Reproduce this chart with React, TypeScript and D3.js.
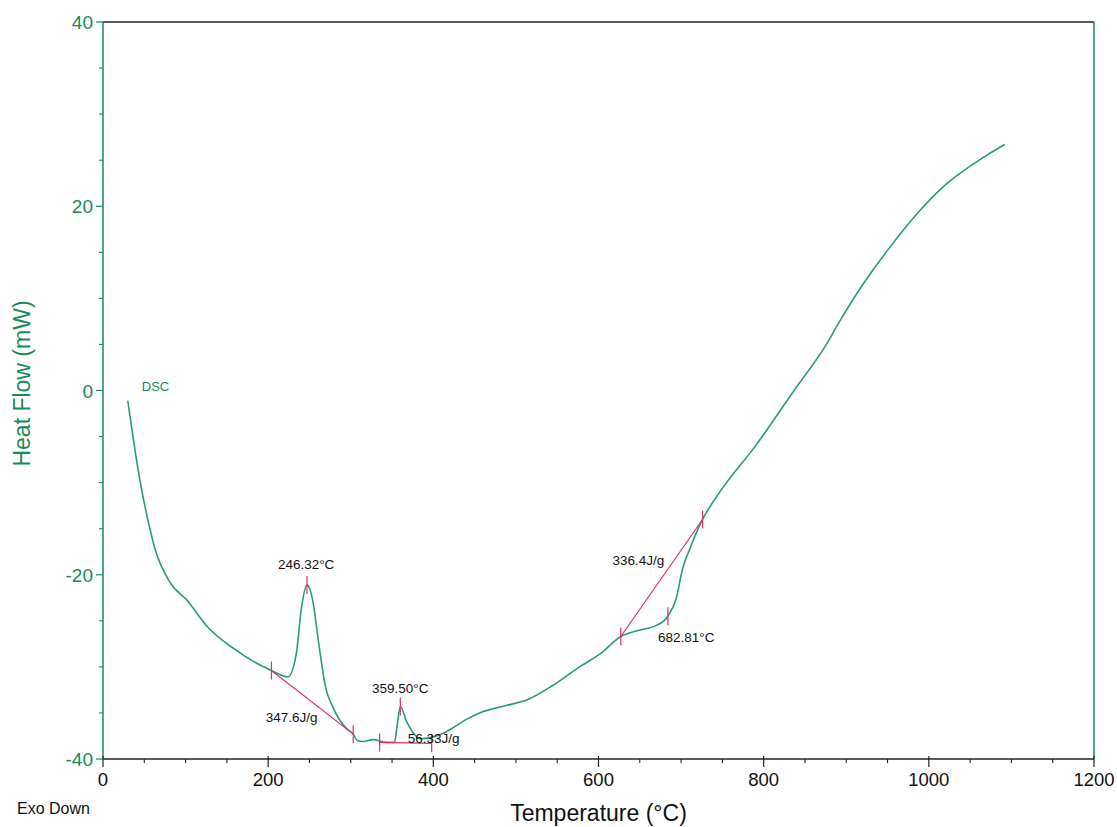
import React from "react";
import * as d3 from "d3";

// ---- data ----
const temperature = [
  30, 45, 53, 63, 81, 103, 125, 158, 204, 224, 234, 240, 247, 254, 261, 269, 279, 295, 303,
  308, 315, 327, 343, 353, 356, 360, 368, 376, 384, 400, 412, 424, 440, 456, 488, 513, 545, 577,
  602, 627, 650, 670, 684, 694, 702, 711, 726, 747, 791, 836, 876, 892, 920, 949, 981, 1021, 1066, 1092,
];
const heatFlow = [
  -1.1, -9.9, -13.5, -17.2, -20.8, -22.9, -25.5, -28.0, -30.4, -31.1, -28.6, -23.8, -21.1, -22.8,
  -27.3, -32.0, -34.5, -36.7, -37.3, -38.0, -38.1, -37.9, -38.2, -38.2, -36.5, -34.3, -36.0, -37.2,
  -37.8, -37.6, -37.2, -36.6, -35.7, -35.0, -34.2, -33.6, -32.0, -30.0, -28.6, -26.7, -26.0, -25.5,
  -24.5, -22.6, -19.3, -17.1, -14.0, -11.0, -5.9, -0.1, 5.0, 7.5, 11.5, 15.1, 18.7, 22.4, 25.3, 26.7,
];

// baselines for the integrations: [t1, v1, t2, v2]
const baselines = [
  [204, -30.4, 303, -37.3],
  [335, -38.2, 398, -38.3],
  [627, -26.7, 726, -14.0],
];
// red marker ticks
const markerT = [204, 303, 247, 335, 398, 360, 627, 726, 684];
const markerV = [-30.4, -37.3, -21.1, -38.2, -38.3, -34.3, -26.7, -14.0, -24.5];

// annotation texts and their anchors (data units)
const annText = ["246.32°C", "359.50°C", "347.6J/g", "56.33J/g", "336.4J/g", "682.81°C"];
const annT = [246, 360, 197, 369, 617, 672];
const annV = [-19.35, -32.8, -36.0, -38.3, -18.9, -27.3];
const annAnchor = ["middle", "middle", "start", "start", "start", "start"];

const xTicks = [0, 200, 400, 600, 800, 1000, 1200];
const yTicks = [-40, -20, 0, 20, 40];

const W = 1117;
const H = 827;
const GREEN = "#178a5c";
const CURVE = "#2a9a7c";
const RED = "#e0305a";
const FONT = "'Liberation Sans', Arial, sans-serif";

export default function App() {
  const x = d3.scaleLinear().domain([0, 1200]).range([103, 1094]);
  const y = d3.scaleLinear().domain([-40, 40]).range([759, 22]);

  const pts = temperature.map((t, i) => [t, heatFlow[i]] as [number, number]);
  const line = d3
    .line<[number, number]>()
    .x((d) => x(d[0]))
    .y((d) => y(d[1]))
    .curve(d3.curveMonotoneX);

  const minorX = d3.range(0, 1201, 50).filter((v) => v % 200 !== 0);
  const minorY = d3.range(-40, 41, 5).filter((v) => v % 20 !== 0);

  const [x0, x1] = x.range();
  const [yb, yt] = y.range();

  return (
    <svg
      width={W}
      height={H}
      style={{ position: "absolute", left: 0, top: 0, background: "#fff" }}
      fontFamily={FONT}
    >
      <rect x={0} y={0} width={W} height={H} fill="#fff" />
      {/* frame */}
      <line x1={x0} x2={x1} y1={yt} y2={yt} stroke="#222" strokeWidth={1.3} />
      <line x1={x0} x2={x1} y1={yb} y2={yb} stroke="#222" strokeWidth={1.3} />
      <line x1={x0} x2={x0} y1={yt} y2={yb} stroke={GREEN} strokeWidth={1.5} />
      <line x1={x1} x2={x1} y1={yt} y2={yb} stroke={GREEN} strokeWidth={1.5} />

      {/* x ticks */}
      {xTicks.map((t) => (
        <g key={"xt" + t}>
          <line x1={x(t)} x2={x(t)} y1={yb - 3} y2={yb + 8} stroke="#222" strokeWidth={1.2} />
          <text x={x(t)} y={yb + 27} fontSize={18.5} textAnchor="middle" fill="#111">
            {t}
          </text>
        </g>
      ))}
      {minorX.map((t) => (
        <line key={"xm" + t} x1={x(t)} x2={x(t)} y1={yb} y2={yb + 4} stroke="#222" strokeWidth={1.1} />
      ))}

      {/* y ticks */}
      {yTicks.map((v) => (
        <g key={"yt" + v}>
          <line x1={x0 - 7} x2={x0} y1={y(v)} y2={y(v)} stroke={GREEN} strokeWidth={1.2} />
          <text x={x0 - 10} y={y(v) + 7} fontSize={19} textAnchor="end" fill={GREEN}>
            {v}
          </text>
        </g>
      ))}
      {minorY.map((v) => (
        <line key={"ym" + v} x1={x0 - 4} x2={x0} y1={y(v)} y2={y(v)} stroke={GREEN} strokeWidth={1.1} />
      ))}

      {/* axis titles */}
      <text x={(x0 + x1) / 2} y={821} fontSize={23} textAnchor="middle" fill="#111">
        Temperature (°C)
      </text>
      <text
        transform={`translate(30, ${y(0) - 7}) rotate(-90)`}
        fontSize={23}
        textAnchor="middle"
        fill={GREEN}
      >
        Heat Flow (mW)
      </text>
      <text x={17} y={814} fontSize={16} fill="#111">
        Exo Down
      </text>

      {/* DSC curve */}
      <path d={line(pts) || ""} fill="none" stroke={CURVE} strokeWidth={1.6} />
      <text x={x(47)} y={y(0)} fontSize={13} fill={GREEN}>
        DSC
      </text>

      {/* baselines */}
      {baselines.map((b, i) => (
        <line
          key={"bl" + i}
          x1={x(b[0])}
          y1={y(b[1])}
          x2={x(b[2])}
          y2={y(b[3])}
          stroke={RED}
          strokeWidth={1.2}
        />
      ))}
      {markerT.map((t, i) => (
        <line
          key={"mk" + i}
          x1={x(t)}
          x2={x(t)}
          y1={y(markerV[i]) - 9}
          y2={y(markerV[i]) + 9}
          stroke={RED}
          strokeWidth={1.2}
        />
      ))}

      {/* annotations */}
      {annText.map((s, i) => (
        <text
          key={"an" + i}
          x={x(annT[i])}
          y={y(annV[i])}
          fontSize={13.5}
          textAnchor={annAnchor[i] as any}
          fill="#111"
        >
          {s}
        </text>
      ))}
    </svg>
  );
}
